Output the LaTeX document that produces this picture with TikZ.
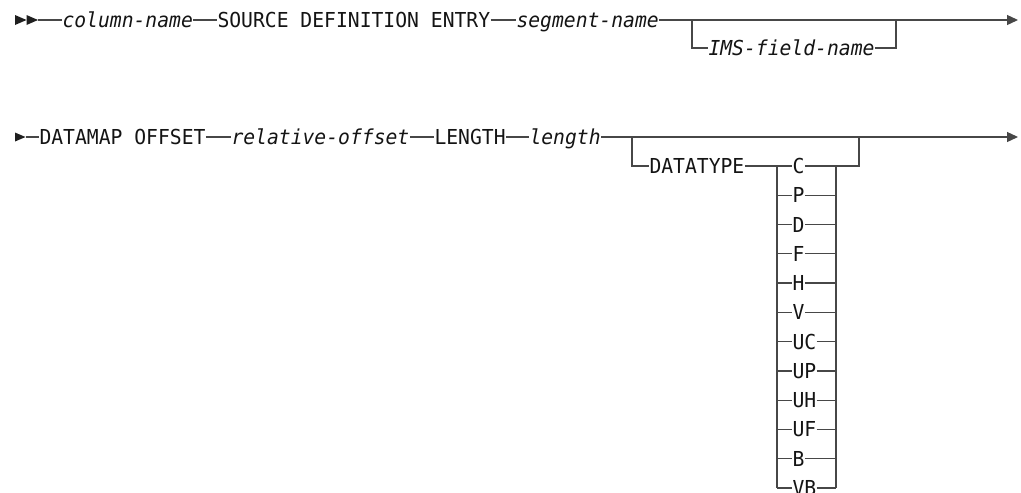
\documentclass[tikz,border=0pt]{standalone}
\usepackage{fontspec}
\setmonofont[FakeStretch=0.956]{DejaVu Sans Mono}
\usetikzlibrary{arrows.meta}
\begin{document}
\begin{tikzpicture}[x=1pt,y=-1pt,
  kw/.style={font=\fontsize{20.6}{21}\selectfont\ttfamily, inner xsep=0.3pt, inner ysep=0pt,
    text height=15pt, text depth=0pt, text=black!92, anchor=west},
  var/.style={kw, font=\fontsize{20.6}{21}\selectfont\ttfamily\itshape},
  ln/.style={line width=1.3pt, draw=black!72},
  endarrow/.style={ln, -{Triangle[length=11pt,width=10pt]}},
  tri/.style={fill=black!88, draw=none}]
\useasboundingbox (0,0) rectangle (1021,493);

% ---------- line 1 ----------
\fill[tri] (15,15) -- (26.5,20) -- (15,25) -- cycle;
\fill[tri] (26.5,15) -- (38,20) -- (26.5,25) -- cycle;
\coordinate (s1) at (38,20);
\node[var] (colname) at (62,20) {column-name};
\node[kw]  (source)  at (217,20) {SOURCE DEFINITION ENTRY};
\node[var] (segname) at (516,20) {segment-name};
\node[var] (ims)     at (708,48) {IMS-field-name};
\coordinate (b1l) at (692,20);
\coordinate (b1r) at (896,20);
\coordinate (e1) at (1018,20);

\draw[ln] (s1) -- (colname.west);
\draw[ln] (colname.east) -- (source.west);
\draw[ln] (source.east) -- (segname.west);
\draw[endarrow] (segname.east) -- (e1);
\draw[ln] (b1l) |- (ims.west);
\draw[ln] (ims.east) -| (b1r);

% ---------- line 2 ----------
\fill[tri] (15,132.5) -- (25.5,137) -- (15,141.5) -- cycle;
\coordinate (s2) at (25.5,137);
\node[kw]  (datamap)  at (39,137) {DATAMAP OFFSET};
\node[var] (reloff)   at (231,137) {relative-offset};
\node[kw]  (lenkw)    at (434,137) {LENGTH};
\node[var] (lenvar)   at (529,137) {length};
\node[kw]  (datatype) at (649,166) {DATATYPE};
\coordinate (b2l) at (632,137);
\coordinate (b2r) at (859,137);
\coordinate (e2) at (1018,137);

\draw[ln] (s2) -- (datamap.west);
\draw[ln] (datamap.east) -- (reloff.west);
\draw[ln] (reloff.east) -- (lenkw.west);
\draw[ln] (lenkw.east) -- (lenvar.west);
\draw[endarrow] (lenvar.east) -- (e2);
\draw[ln] (b2l) |- (datatype.west);

% datatype choices
\foreach \t/\nm [count=\i from 0] in {C/tC,P/tP,D/tD,F/tF,H/tH,V/tV,UC/tUC,UP/tUP,UH/tUH,UF/tUF,B/tB,VB/tVB}{
  \node[kw] (\nm) at (792,166+29.27*\i) {\t};
  \draw[ln] (777,166+29.27*\i) -- (\nm.west);
  \draw[ln] (\nm.east) -- (836,166+29.27*\i);
}
\draw[ln] (datatype.east) -- (tC.west);
\coordinate (sl) at (777,166);
\coordinate (sr) at (836,166);
\draw[ln] (sl) -- (777,488) ;
\draw[ln] (sr) -- (836,488);
\draw[ln] (sr) -| (b2r);
\end{tikzpicture}
\end{document}
